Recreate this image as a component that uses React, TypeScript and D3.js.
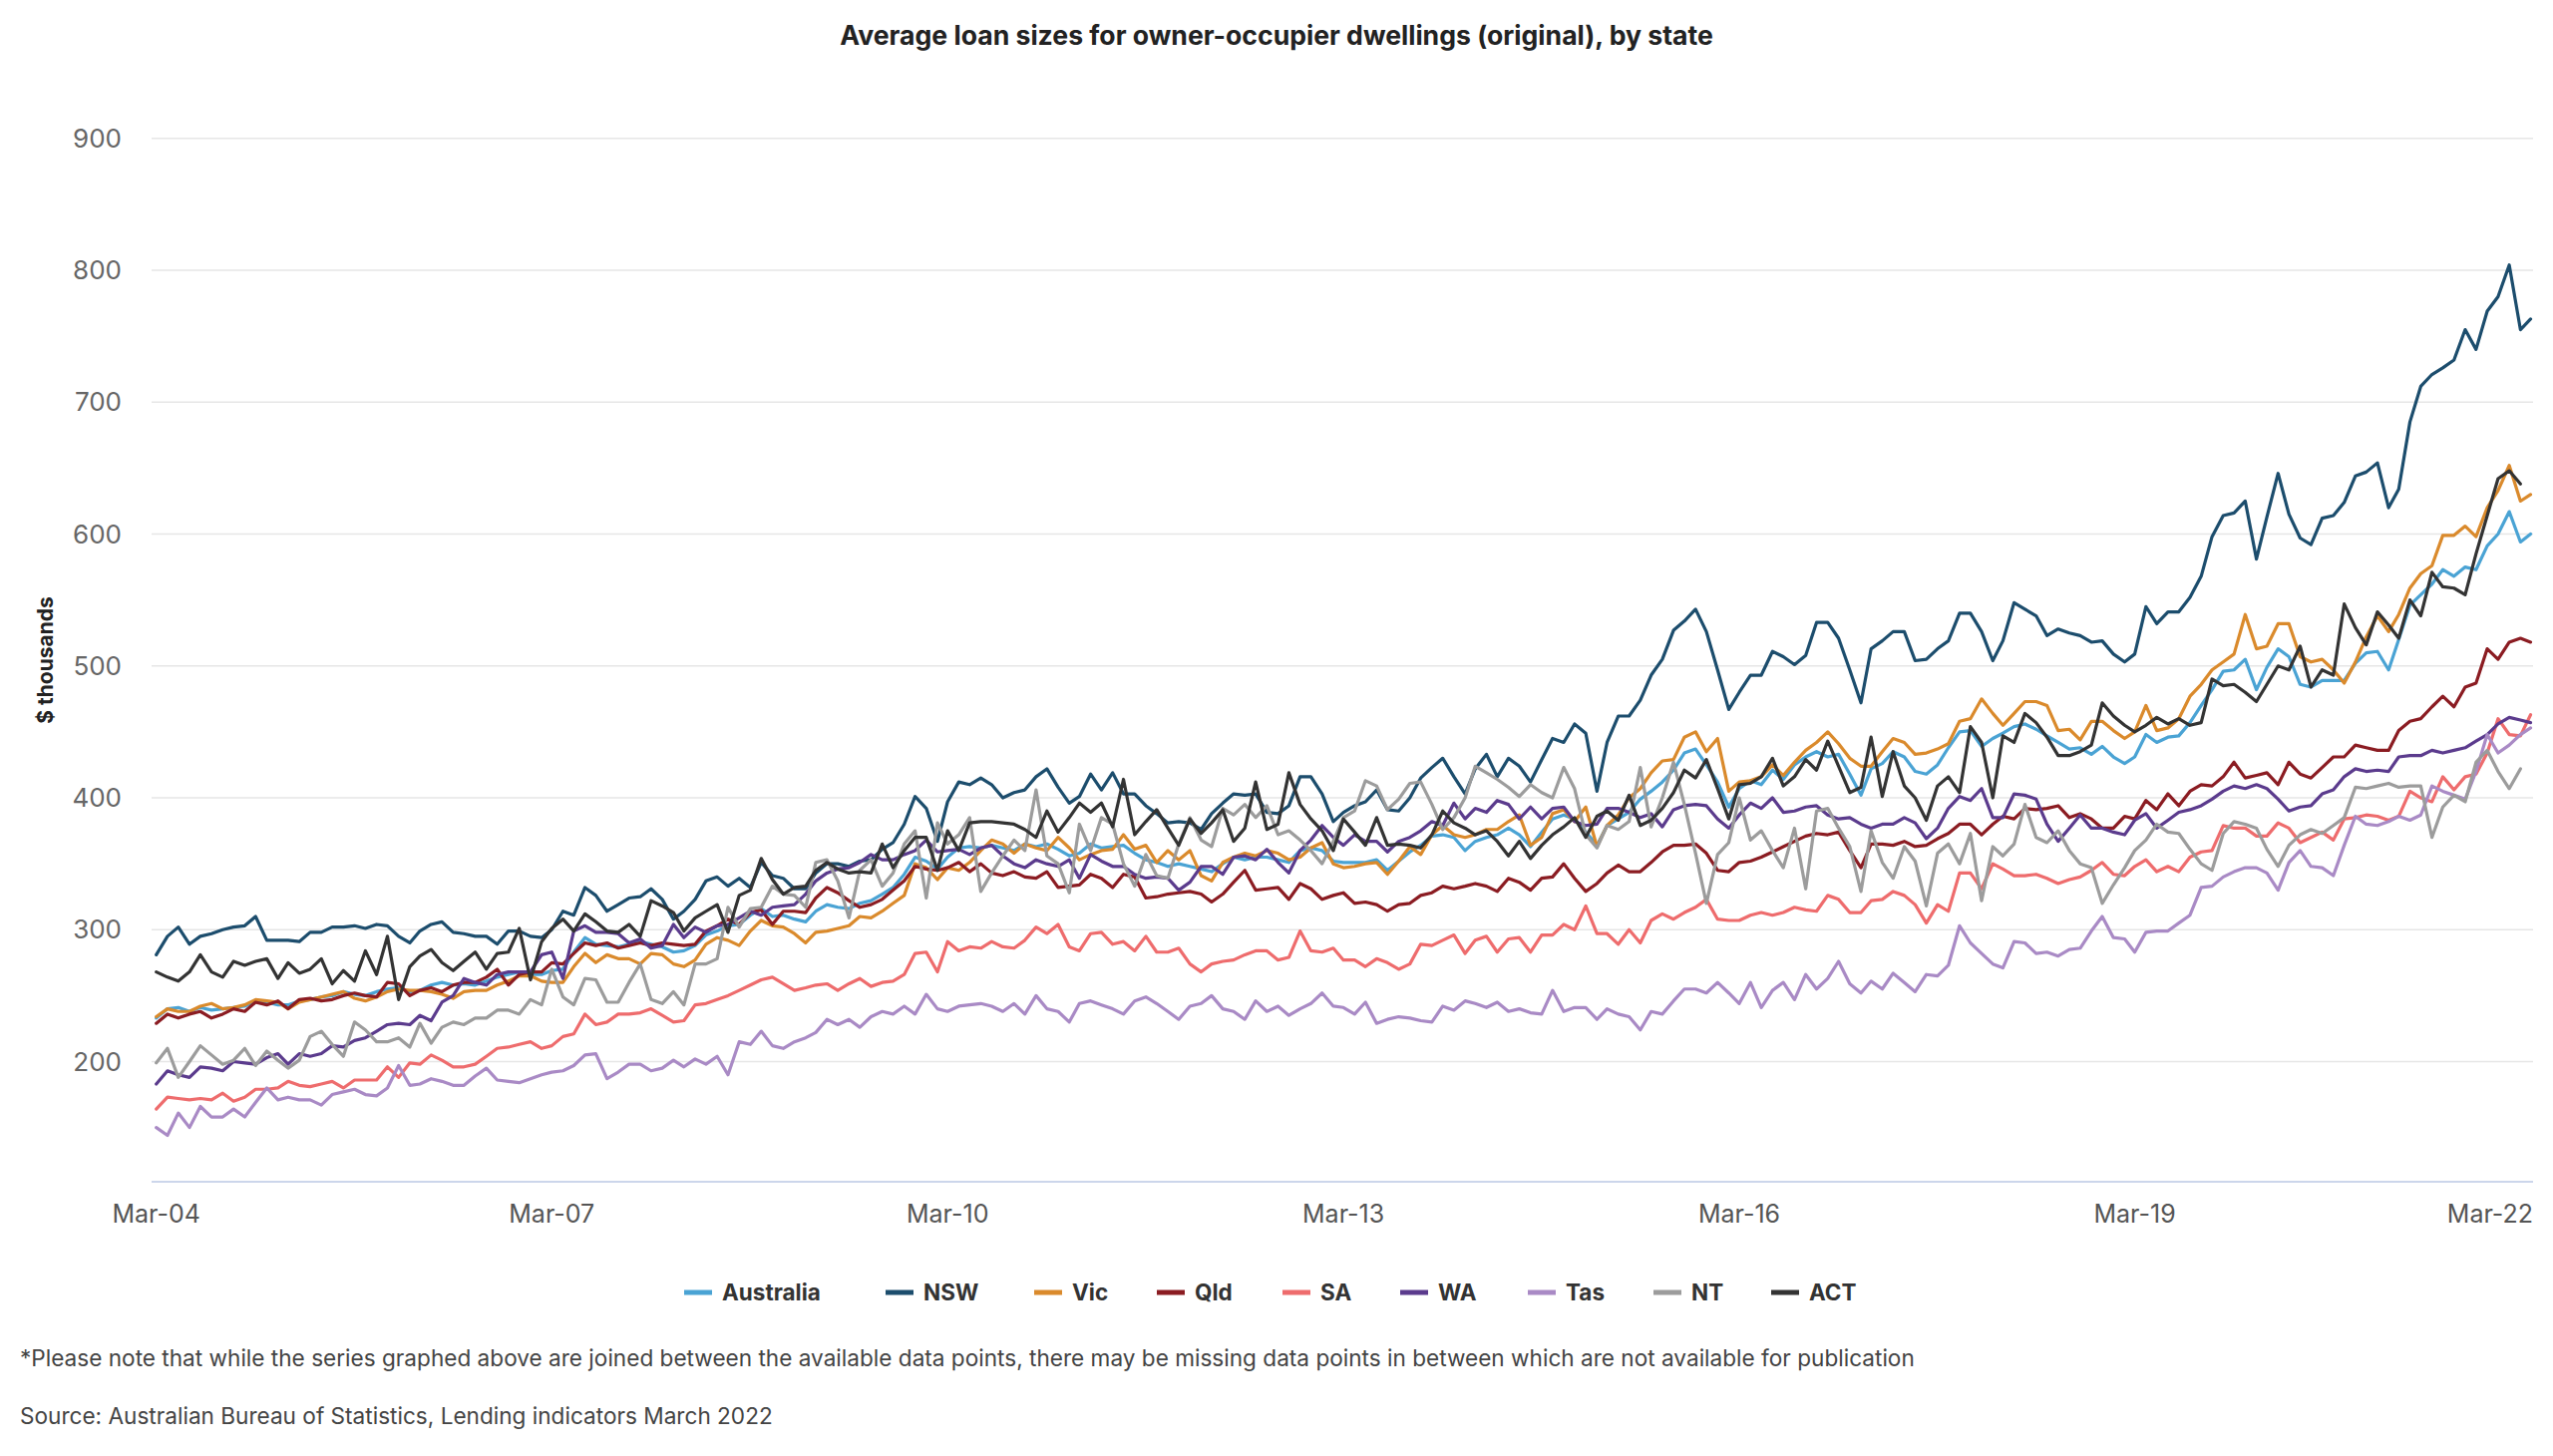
import React from "react";
import * as d3 from "d3";

// ---------- DATA (thousand $, monthly Mar-04 .. Mar-22) ----------
const seriesNames = ["Australia", "NSW", "Vic", "Qld", "SA", "WA", "Tas", "NT", "ACT"];
const tickLabels = ["Mar-04", "Mar-07", "Mar-10", "Mar-13", "Mar-16", "Mar-19", "Mar-22"];
const yTicks = [200, 300, 400, 500, 600, 700, 800, 900];

const australia = [
  233,240,241,238,241,239,240,241,242,246,245,243,243,246,247,249,250,253,251,250,253,255,256,253,254,258,260,258,259,258,261,264,266,268,266,266,269,
  270,283,294,
  289,288,287,289,291,289,287,283,284,288,
  296,299,303,304,311,316,310,311,308,306,
  314,319,317,316,320,322,327,332,342,355,
  352,346,355,362,
  363,362,364,362,360,365,
  363,365,361,356,358,365,362,363,364,358,
  353,351,348,350,348,346,344,350,355,353,
  355,355,353,351,360,362,360,352,
  351,351,
  351,353,345,352,359,364,371,372,370,360,
  367,370,372,377,372,363,374,384,387,384,
  374,364,379,384,389,399,405,412,421,434,
  437,425,412,393,407,413,410,421,414,425,
  431,435,431,433,418,402,422,426,435,431,
  420,418,425,438,450,451,439,445,449,
  454,456,452,447,442,437,438,433,439,431,426,
  431,448,442,446,447,457,470,482,496,497,
  505,482,499,513,507,486,484,489,489,489,
  502,510,511,497,520,546,554,562,573,568,
  575,573,591,600,617,594,600
];

const nsw = [
  281,295,302,289,295,297,300,302,303,310,
  292,292,292,291,298,298,302,302,303,301,
  304,303,295,290,299,304,306,298,297,295,
  295,289,299,299,295,294,300,
  314,311,332,
  326,314,319,324,325,331,323,308,314,323,
  337,340,333,339,332,351,341,339,331,331,
  343,350,350,348,352,353,361,366,380,401,
  392,367,397,412,
  410,415,410,400,404,406,
  416,422,408,396,401,418,406,419,403,403,
  394,388,381,382,381,376,388,396,403,402,
  403,389,388,394,416,416,403,382,
  389,394,
  397,406,391,390,400,415,423,430,416,403,
  422,433,416,430,424,412,429,445,442,456,
  449,405,442,462,462,474,493,505,527,534,
  543,526,497,467,480,493,493,511,507,501,
  508,533,533,521,497,472,513,519,526,526,
  504,505,513,519,540,540,526,504,519,
  548,543,538,523,528,525,523,518,519,509,503,
  509,545,532,541,541,552,568,598,614,616,
  625,581,613,646,615,597,592,612,614,624,
  644,647,654,620,634,685,712,721,726,732,
  755,740,769,780,804,755,763
];

const vic = [
  234,240,238,238,242,244,240,241,243,247,246,245,240,245,247,249,251,253,248,246,249,253,255,254,254,253,251,248,253,254,254,258,261,265,265,261,260,
  260,272,282,
  275,281,278,278,274,282,281,274,272,277,
  289,294,292,288,299,307,303,302,297,290,
  298,299,301,303,310,309,314,320,326,350,
  347,338,347,345,
  351,360,368,365,358,365,
  362,360,370,362,353,357,360,361,372,361,
  364,351,360,353,360,341,337,351,355,358,
  356,360,358,353,355,362,366,350,
  347,348,
  350,351,342,352,363,357,372,379,372,370,
  372,376,376,382,387,364,370,388,391,382,
  393,363,379,387,400,407,419,428,429,446,
  450,435,445,405,412,413,416,425,417,427,
  436,442,450,441,430,424,424,435,445,442,
  433,434,437,441,458,460,475,464,455,
  464,473,473,470,451,452,444,458,458,451,445,
  450,470,451,453,460,477,486,497,503,509,
  539,513,515,532,532,507,503,505,497,487,
  503,522,538,526,539,559,570,576,599,599,
  606,598,620,633,652,625,630
];

const qld = [
  229,236,233,236,238,233,236,240,238,245,243,246,240,247,248,246,247,250,252,250,249,260,259,250,254,256,253,258,260,260,264,270,258,266,268,268,275,
  274,282,290,
  288,290,286,288,290,288,290,289,288,289,
  299,303,308,304,313,315,304,314,314,313,
  324,332,328,322,317,319,323,330,337,348,
  346,345,347,351,
  344,350,343,341,344,340,
  339,344,332,333,334,342,339,332,342,340,
  324,325,327,328,329,327,321,327,336,345,
  330,331,332,323,335,331,323,326,
  328,320,
  321,319,314,319,320,326,328,333,331,333,
  335,333,329,339,336,330,339,340,350,339,
  329,335,343,349,344,344,351,359,364,364,
  365,358,345,344,351,352,355,359,363,367,
  371,373,372,374,360,347,365,365,364,367,
  363,364,369,373,380,380,372,380,386,
  384,392,391,392,394,385,388,384,377,377,386,
  384,398,391,403,394,405,410,409,416,427,
  415,417,419,410,427,418,415,423,431,431,
  440,438,436,436,451,458,460,469,477,469,
  484,487,513,505,518,521,518
];

const sa = [
  164,173,172,171,172,171,176,170,173,179,179,180,185,182,181,183,185,180,186,186,186,196,188,199,198,205,201,196,196,198,204,210,211,213,215,210,212,
  219,221,236,
  228,230,236,236,237,240,235,230,231,243,
  244,247,250,254,258,262,264,259,254,256,
  258,259,254,259,263,257,260,261,266,282,
  283,268,291,284,
  287,286,291,287,286,292,
  302,297,304,287,284,297,298,289,291,284,
  295,283,283,286,274,268,274,276,277,281,
  284,284,277,279,299,284,283,286,
  277,277,
  272,278,275,270,274,289,288,292,296,282,
  292,295,283,293,294,283,296,296,304,300,
  318,297,297,289,300,290,307,312,308,313,
  317,323,308,307,307,311,313,311,313,317,
  315,314,326,323,313,313,322,323,329,326,
  319,305,319,314,343,343,331,350,346,
  341,341,342,339,335,338,340,345,351,342,341,
  348,353,344,348,344,355,359,360,379,377,
  377,371,371,381,377,366,370,374,368,384,
  385,387,386,383,386,405,400,397,416,406,
  416,418,434,460,448,447,463
];

const wa = [
  183,193,190,188,196,195,193,200,199,198,203,206,198,206,204,206,212,211,216,218,223,228,229,228,235,231,245,250,263,260,258,266,268,268,268,281,283,
  263,299,303,
  298,298,297,290,293,286,288,304,294,302,
  298,303,304,309,314,311,317,318,319,327,
  337,343,346,347,351,357,353,353,357,360,
  368,359,360,361,
  357,362,364,356,350,347,
  353,350,348,353,339,357,352,348,348,342,
  339,340,339,330,336,348,348,342,355,356,
  353,361,351,343,360,368,379,370,
  364,372,
  367,367,359,367,370,375,382,379,396,384,
  392,389,398,395,384,393,384,392,393,382,
  379,380,392,392,389,385,388,378,391,394,
  395,394,384,377,387,396,392,400,389,390,
  393,394,387,384,385,380,377,380,380,385,
  381,369,377,392,401,398,407,385,385,
  403,402,399,380,367,377,387,377,377,374,372,
  383,388,377,383,389,391,394,399,405,409,
  407,410,407,399,390,393,394,403,406,416,
  422,420,421,420,431,432,432,436,434,436,
  438,443,448,456,461,459,457
];

const tas = [
  150,144,161,150,166,158,158,164,158,169,180,171,173,171,171,167,175,177,179,175,174,180,197,182,183,187,185,182,182,189,195,186,185,184,187,190,192,
  193,197,205,
  206,187,192,198,198,193,195,201,196,202,
  198,204,190,215,213,223,212,210,215,218,
  222,232,
  228,232,226,234,238,236,242,236,251,240,
  238,242,243,244,242,238,244,236,250,240,
  238,230,244,246,243,240,236,246,249,244,
  238,232,242,244,250,240,238,232,246,238,
  242,235,240,244,252,242,
  241,236,245,229,232,234,233,231,230,242,239,246,
  244,241,245,238,240,237,236,254,238,241,
  241,232,240,236,234,224,238,236,246,255,
  255,252,260,252,244,260,241,254,260,247,
  266,255,263,276,259,252,261,255,267,260,
  253,266,265,273,303,290,282,274,271,
  291,290,282,283,280,285,286,299,310,294,293,
  283,298,299,299,305,311,332,333,340,344,
  347,347,343,330,351,360,348,347,341,364,
  386,380,379,382,386,383,387,409,405,402,
  399,420,448,434,440,448,453
];

const nt = [
  199,210,188,200,212,205,198,201,210,197,208,201,195,201,219,223,213,204,230,224,215,215,218,211,229,214,226,230,228,233,233,239,239,236,247,243,270,
  249,243,263,
  262,245,245,260,274,247,244,253,243,274,
  274,278,317,302,316,317,333,327,326,317,
  351,353,337,309,345,353,333,343,365,375,
  324,381,365,372,
  385,329,343,356,368,360,
  406,356,350,328,380,360,385,380,350,333,
  357,341,339,365,385,368,363,392,387,395,
  385,394,372,375,368,360,350,367,
  385,390,
  413,409,391,399,411,412,395,376,385,400,
  424,419,414,408,401,410,404,400,423,407,
  372,362,379,376,382,423,378,400,427,395,
  358,320,357,366,400,368,375,360,347,377,
  331,390,392,377,363,329,375,351,339,363,
  352,318,358,365,350,373,322,363,356,
  365,395,370,366,375,360,350,347,320,334,347,
  360,368,380,374,373,361,350,345,373,382,
  380,377,361,348,364,372,376,373,379,385,
  408,407,409,411,408,409,409,370,393,402,
  397,427,436,420,407,422
];

const act = [
  268,264,261,268,281,268,264,276,273,276,
  278,263,275,267,270,278,259,269,261,284,
  266,295,247,272,280,285,275,269,276,283,
  270,282,283,301,262,291,301,
  308,299,312,
  306,299,298,304,295,322,318,313,299,309,
  314,319,298,326,330,354,338,327,332,333,
  345,351,346,343,344,343,365,347,360,370,
  370,345,375,360,
  381,382,382,381,380,376,
  370,390,374,385,396,389,396,378,414,372,
  382,391,377,364,384,373,381,391,367,377,
  412,376,380,419,395,384,375,360,
  384,374,
  364,385,364,365,364,362,372,390,381,377,
  372,375,367,356,367,354,364,372,378,385,
  370,386,390,383,402,379,383,392,404,421,
  415,429,407,384,410,411,416,430,409,416,
  429,421,443,424,404,408,446,401,435,409,
  400,383,409,416,404,454,442,400,447,
  442,464,457,446,432,432,435,440,472,462,455,
  450,455,461,456,460,455,457,490,485,486,
  480,473,486,500,497,515,484,497,493,547,
  529,516,541,531,521,550,538,571,560,559,
  554,585,614,642,648,638
];

const seriesValues = [australia, nsw, vic, qld, sa, wa, tas, nt, act];
const seriesColors = ["#4aa3d4", "#1c4d6d", "#da8a2c", "#8b1c22", "#ee6c6d", "#5b3b8d", "#a98ac5", "#9c9c9c", "#333333"];

// ---------- LAYOUT ----------
const W = 2560;
const H = 1460;
const FONT = "Inter, 'Open Sans', 'DejaVu Sans', sans-serif";
const plotLeft = 152;
const plotRight = 2540;
const axisY = 1185;
const legendY = 1296;
const legendX = [686, 888, 1037, 1160, 1286, 1404, 1532, 1658, 1776];

export default function App() {
  const x = d3
    .scaleTime()
    .domain([new Date(2004, 2, 1), new Date(2022, 2, 1)])
    .range([156.7, 2537.5]);
  const y = d3.scaleLinear().domain([200, 900]).range([1064.5, 138.8]);
  const monthDate = (i: number) => new Date(2004, 2 + i, 1);

  const line = d3
    .line<number>()
    .x((_, i) => x(monthDate(i)))
    .y((d) => y(d))
    .curve(d3.curveLinear);

  const tickDates = tickLabels.map((_, k) => new Date(2004 + 3 * k, 2, 1));

  return (
    <svg
      width={W}
      height={H}
      style={{ position: "absolute", left: 0, top: 0, background: "#fff" }}
      fontFamily={FONT}
    >
      <rect x={0} y={0} width={W} height={H} fill="#fff" />
      <text x={1280} y={45} textAnchor="middle" fontSize={26.6} fontWeight={700} fill="#222">
        Average loan sizes for owner-occupier dwellings (original), by state
      </text>

      {/* grid */}
      {yTicks.map((t) => (
        <g key={t}>
          <line x1={plotLeft} x2={plotRight} y1={y(t)} y2={y(t)} stroke="#e6e6e6" strokeWidth={1.6} />
          <text x={122} y={y(t)} dy="0.35em" textAnchor="end" fontSize={26} fill="#666">
            {t}
          </text>
        </g>
      ))}
      <line x1={plotLeft} x2={plotRight} y1={axisY} y2={axisY} stroke="#ccd6eb" strokeWidth={2} />

      {/* y title */}
      <text
        transform={`translate(46,662) rotate(-90)`}
        textAnchor="middle"
        dy="0.35em"
        fontSize={21}
        fontWeight={700}
        fill="#222"
      >
        $ thousands
      </text>

      {/* x labels */}
      {tickLabels.map((lab, k) => {
        const last = k === tickLabels.length - 1;
        return (
          <text
            key={lab}
            x={last ? plotRight : x(tickDates[k])}
            y={1217}
            dy="0.35em"
            textAnchor={last ? "end" : "middle"}
            fontSize={25}
            fill="#555"
          >
            {lab}
          </text>
        );
      })}

      {/* lines */}
      {seriesValues.map((vals, s) => (
        <path
          key={seriesNames[s]}
          d={line(vals) || ""}
          fill="none"
          stroke={seriesColors[s]}
          strokeWidth={3.2}
          strokeLinejoin="round"
          strokeLinecap="round"
        />
      ))}

      {/* legend */}
      {seriesNames.map((name, s) => (
        <g key={name} transform={`translate(${legendX[s]},${legendY})`}>
          <rect x={0} y={-2.5} width={28} height={5} fill={seriesColors[s]} />
          <text x={38} y={0} dy="0.35em" fontSize={22.5} fontWeight={700} fill="#333">
            {name}
          </text>
        </g>
      ))}

      {/* notes */}
      <text x={20} y={1362} dy="0.35em" fontSize={22.6} fill="#444">
        *Please note that while the series graphed above are joined between the available data points, there may be missing data points in between which are not available for publication
      </text>
      <text x={20} y={1420} dy="0.35em" fontSize={22.6} fill="#444">
        Source: Australian Bureau of Statistics, Lending indicators March 2022
      </text>
    </svg>
  );
}
